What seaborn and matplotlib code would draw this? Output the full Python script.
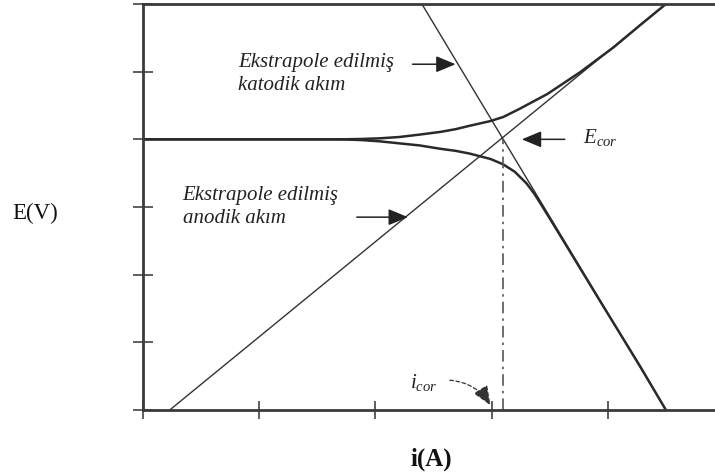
import matplotlib
matplotlib.use("Agg")
import matplotlib.pyplot as plt
import seaborn as sns
import pandas as pd

# ---- data (schematic units: x ticks 0..4, y ticks 0..6) ----
upper_x = [0.00, 1.70, 1.87, 2.04, 2.21, 2.38, 2.56, 2.69, 2.81, 2.99, 3.10, 3.24, 3.48, 3.76, 4.05, 4.28, 4.50]
upper_y = [4.00, 4.00, 4.005, 4.015, 4.035, 4.07, 4.11, 4.15, 4.20, 4.27, 4.33, 4.45, 4.67, 4.99, 5.36, 5.69, 6.00]

lower_x = [0.00, 1.70, 1.87, 2.04, 2.21, 2.38, 2.56, 2.69, 2.81, 2.90, 2.99, 3.10, 3.20, 3.30, 3.37, 3.44, 3.59, 3.93, 4.28, 4.50]
lower_y = [4.00, 4.00, 3.99, 3.97, 3.94, 3.91, 3.86, 3.83, 3.79, 3.75, 3.71, 3.63, 3.52, 3.35, 3.19, 3.00, 2.58, 1.62, 0.64, 0.00]

anodic_x = [0.23, 4.50]
anodic_y = [0.00, 6.00]
cathodic_x = [2.40, 4.50]
cathodic_y = [6.00, 0.00]

i_cor = 3.10
E_cor = 4.00

x_ticks = [0, 1, 2, 3, 4]
y_ticks = [0, 1, 2, 3, 4, 5, 6]

label_cathodic = ["Ekstrapole edilmiş", "katodik akım"]
label_anodic = ["Ekstrapole edilmiş", "anodik akım"]

sns.set_theme(style="white")
plt.rcParams['font.family'] = ['Liberation Serif', 'DejaVu Serif']
plt.rcParams['mathtext.fontset'] = 'custom'
plt.rcParams['mathtext.rm'] = 'Liberation Serif'
plt.rcParams['mathtext.it'] = 'Liberation Serif:italic'

fig = plt.figure(figsize=(7.15, 4.77), dpi=100)
ax = fig.add_axes([143/715, 66/477, 572/715, 406/477])

curve_col = "#2a2a2a"
line_col = "#333333"

df_up = pd.DataFrame({"x": upper_x, "y": upper_y})
df_lo = pd.DataFrame({"x": lower_x, "y": lower_y})
df_an = pd.DataFrame({"x": anodic_x, "y": anodic_y})
df_ca = pd.DataFrame({"x": cathodic_x, "y": cathodic_y})

sns.lineplot(data=df_an, x="x", y="y", ax=ax, sort=False, estimator=None, color=line_col, lw=1.0)
sns.lineplot(data=df_ca, x="x", y="y", ax=ax, sort=False, estimator=None, color=line_col, lw=1.0)
sns.lineplot(data=df_up, x="x", y="y", ax=ax, sort=False, estimator=None, color=curve_col, lw=1.8)
sns.lineplot(data=df_lo, x="x", y="y", ax=ax, sort=False, estimator=None, color=curve_col, lw=1.8)

ax.plot([i_cor, i_cor], [0, E_cor], color="#555555", lw=1.2, linestyle=(0, (7, 3, 1.5, 3)))

ax.set_xlim(0, 572/116.2)
ax.set_ylim(0, 6)
ax.set_xticks(x_ticks)
ax.set_yticks(y_ticks)
ax.set_xticklabels([])
ax.set_yticklabels([])
ax.tick_params(axis='x', direction='inout', length=13, width=1.1, color="#333333", bottom=True)
ax.tick_params(axis='y', direction='inout', length=15, width=1.1, color="#333333", left=True)

for s in ['left', 'top', 'bottom']:
    ax.spines[s].set_color("#3a3a3a")
    ax.spines[s].set_linewidth(2.0)
ax.spines['right'].set_visible(False)

ax.set_xlabel("i(A)", fontsize=18, fontweight='bold', color='#111111', va='center')
ax.xaxis.set_label_coords((431-143)/572, (411-459)/406)
ax.set_ylabel("E(V)", fontsize=16.5, rotation=0, color='#111111', ha='center', va='center')
ax.yaxis.set_label_coords((35-143)/572, (411-213)/406)

tfs = 15
ax.text(0.82, 5.08, label_cathodic[0], fontsize=tfs, style='italic', color='#222222', va='baseline')
ax.text(0.82, 4.74, label_cathodic[1], fontsize=tfs, style='italic', color='#222222', va='baseline')
ax.text(0.34, 3.12, label_anodic[0], fontsize=tfs, style='italic', color='#222222', va='baseline')
ax.text(0.34, 2.78, label_anodic[1], fontsize=tfs, style='italic', color='#222222', va='baseline')
ax.text(3.79, 3.96, r"$E_{cor}$", fontsize=15, color='#222222', va='baseline')
ax.text(2.30, 0.34, r"$i_{cor}$", fontsize=15, color='#222222', va='baseline')

arrow = dict(arrowstyle='-|>,head_length=0.6,head_width=0.25', mutation_scale=20,
             lw=1.1, color='#222222', shrinkA=0, shrinkB=0)
ax.annotate('', xy=(2.69, 5.11), xytext=(2.32, 5.11), arrowprops=arrow)
ax.annotate('', xy=(2.28, 2.85), xytext=(1.84, 2.85), arrowprops=arrow)
ax.annotate('', xy=(3.26, 4.00), xytext=(3.63, 4.00), arrowprops=arrow)
arrow2 = dict(arrow)
arrow2['connectionstyle'] = 'arc3,rad=-0.25'
arrow2['lw'] = 0.9
arrow2['linestyle'] = (0, (3, 2))
arrow2['color'] = '#333333'
ax.annotate('', xy=(2.99, 0.07), xytext=(2.64, 0.44), arrowprops=arrow2)

fig.savefig("out.png", dpi=100)
